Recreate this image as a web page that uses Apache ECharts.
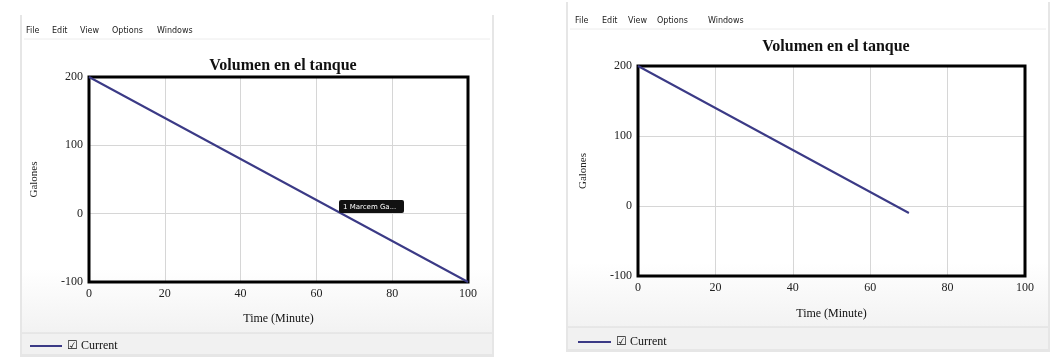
<!DOCTYPE html>
<html>
<head>
<meta charset="utf-8">
<script src="https://cdn.jsdelivr.net/npm/echarts@6/dist/echarts.min.js"></script>
<style>
  html, body { margin: 0; padding: 0; background: #fff; }
  #chart { width: 1052px; height: 358px; }
</style>
</head>
<body>
<div id="chart"></div>
<script>
// data
const timeFull = [0, 10, 20, 30, 40, 50, 60, 70, 80, 90, 100];
const volFull = [200, 170, 140, 110, 80, 50, 20, -10, -40, -70, -100];
const timeRun = [0, 10, 20, 30, 40, 50, 60, 70];
const volRun = [200, 170, 140, 110, 80, 50, 20, -10];
const xTicks = [0, 20, 40, 60, 80, 100];
const yTicks = [-100, 0, 100, 200];
const menuItems = ['File', 'Edit', 'View', 'Options', 'Windows'];

const serif = '"Liberation Serif", "DejaVu Serif", serif';
const lineColor = '#3b3a86';

function pairs(xs, ys) {
  return xs.map((x, i) => [x, ys[i]]);
}

function xAxisFor(idx, gap) {
  return {
    gridIndex: idx, type: 'value', min: xTicks[0], max: xTicks[xTicks.length - 1], interval: 20,
    name: 'Time (Minute)', nameLocation: 'middle', nameGap: gap,
    nameTextStyle: { fontFamily: serif, fontSize: 12, color: '#111' },
    axisLine: { show: false }, axisTick: { show: false },
    axisLabel: { fontFamily: serif, fontSize: 12, color: '#222', margin: 6 },
    splitLine: { lineStyle: { color: '#d6d6d6', width: 1 } }
  };
}

function yAxisFor(idx) {
  return {
    gridIndex: idx, type: 'value', min: yTicks[0], max: yTicks[yTicks.length - 1], interval: 100,
    name: 'Galones', nameLocation: 'middle', nameGap: 49,
    nameTextStyle: { fontFamily: serif, fontSize: 11, color: '#222' },
    axisLine: { show: false }, axisTick: { show: false },
    axisLabel: { fontFamily: serif, fontSize: 12, color: '#222', margin: 6 },
    splitLine: { lineStyle: { color: '#d6d6d6', width: 1 } }
  };
}

// window frames, menu bars and legend strips
function windowGraphics(x, y, w, h, menuY, menuXs, stripY) {
  const g = [
    { type: 'rect', shape: { x: x - 2, y: y, width: w + 4, height: h + 3 },
      style: { fill: '#e6e6e6' }, z: -10 },
    { type: 'rect', shape: { x: x, y: y, width: w, height: h },
      style: { fill: new echarts.graphic.LinearGradient(0, 0, 0, 1, [
        { offset: 0, color: '#ffffff' }, { offset: 0.75, color: '#ffffff' }, { offset: 1, color: '#eeeeee' }]) },
      z: -9 },
    { type: 'line', shape: { x1: x + 2, y1: menuY + 8, x2: x + w - 2, y2: menuY + 8 },
      style: { stroke: '#ececec', lineWidth: 1 }, z: -8 },
    { type: 'rect', shape: { x: x, y: stripY, width: w, height: y + h - stripY },
      style: { fill: '#f1f1f1' }, z: -8 },
    { type: 'line', shape: { x1: x, y1: stripY, x2: x + w, y2: stripY },
      style: { stroke: '#dcdcdc', lineWidth: 1 }, z: -7 }
  ];
  menuItems.forEach((m, i) => {
    g.push({ type: 'text', x: menuXs[i], y: menuY, z: 5,
      style: { text: m, fontFamily: '"DejaVu Sans", sans-serif', fontSize: 8, fill: '#222',
        verticalAlign: 'middle' } });
  });
  return g;
}

const graphics = []
  .concat(windowGraphics(22, 15, 470, 339, 31, [26, 52, 80, 112, 157], 333))
  .concat(windowGraphics(568, 2, 480, 347, 21, [575, 602, 628, 657, 708], 327));

// hover label left over from the screenshot
graphics.push({ type: 'rect', shape: { x: 339, y: 200, width: 65, height: 13, r: 2 },
  style: { fill: '#111' }, z: 20 });
graphics.push({ type: 'text', x: 343, y: 207, z: 21,
  style: { text: '1 Marcem Ga...', fontFamily: '"DejaVu Sans", sans-serif', fontSize: 7,
    fill: '#fff', verticalAlign: 'middle' } });

const chart = echarts.init(document.getElementById('chart'));
chart.setOption({
  animation: false,
  backgroundColor: '#ffffff',
  title: [
    { text: 'Volumen en el tanque', left: 278, top: 53, textAlign: 'center',
      textStyle: { fontFamily: serif, fontSize: 16, fontWeight: 'bold', color: '#111' } },
    { text: 'Volumen en el tanque', left: 831, top: 34, textAlign: 'center',
      textStyle: { fontFamily: serif, fontSize: 16, fontWeight: 'bold', color: '#111' } }
  ],
  legend: [
    { left: 25, top: 335, itemWidth: 32, itemHeight: 2, itemGap: 5, icon: 'rect',
      data: ['Current'], formatter: '☑ Current', selectedMode: false,
      textStyle: { fontFamily: serif, fontSize: 12, color: '#111' } },
    { left: 573, top: 331, itemWidth: 33, itemHeight: 2, itemGap: 5, icon: 'rect',
      data: ['Current'], formatter: '☑ Current', selectedMode: false,
      textStyle: { fontFamily: serif, fontSize: 12, color: '#111' } }
  ],
  grid: [
    { left: 89, top: 77, width: 379, height: 205, show: true, borderColor: '#000', borderWidth: 3,
      backgroundColor: 'transparent', z: 3 },
    { left: 638, top: 66, width: 387, height: 210, show: true, borderColor: '#000', borderWidth: 3,
      backgroundColor: 'transparent', z: 3 }
  ],
  xAxis: [xAxisFor(0, 31), xAxisFor(1, 32)],
  yAxis: [yAxisFor(0), yAxisFor(1)],
  graphic: graphics,
  series: [
    { name: 'Current', type: 'line', xAxisIndex: 0, yAxisIndex: 0, data: pairs(timeFull, volFull),
      showSymbol: false, lineStyle: { color: lineColor, width: 2 }, itemStyle: { color: lineColor } },
    { name: 'Current', type: 'line', xAxisIndex: 1, yAxisIndex: 1, data: pairs(timeRun, volRun),
      showSymbol: false, lineStyle: { color: lineColor, width: 2 }, itemStyle: { color: lineColor } }
  ]
});
</script>
</body>
</html>
